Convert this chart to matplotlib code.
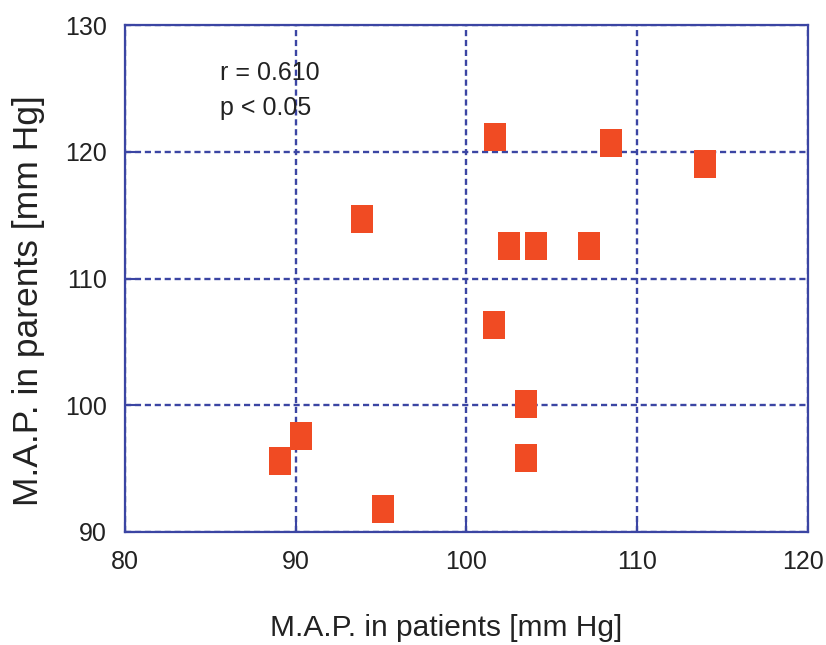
import matplotlib
matplotlib.use('Agg')
import matplotlib.pyplot as plt
import matplotlib.transforms as mtransforms

# mean arterial pressure, patients vs. their parents
map_patients = [101.7, 108.5, 114.0, 93.9, 102.5, 104.1, 107.2, 101.6, 103.5, 90.3, 89.1, 103.5, 95.1]
map_parents = [121.2, 120.7, 119.0, 114.7, 112.6, 112.6, 112.6, 106.3, 100.1, 97.6, 95.6, 95.8, 91.8]
xticks = [80, 90, 100, 110, 120]
yticks = [90, 100, 110, 120, 130]

blue = '#3b45a3'
plt.rcParams['font.family'] = ['Liberation Sans', 'DejaVu Sans']

fig = plt.figure(figsize=(8.26, 6.45), dpi=100)
ax = fig.add_axes([0.1513, 0.1752, 0.8265, 0.786])

# slightly tall square marker
box = [(-1, -1.28), (1, -1.28), (1, 1.28), (-1, 1.28), (-1, -1.28)]
ax.plot(map_patients, map_parents, linestyle='none', marker=box, color='#f04b23',
        markersize=19.5, markeredgewidth=0, zorder=3)

ax.set_xlim(80, 120)
ax.set_ylim(90, 130)
ax.set_xticks(xticks)
ax.set_yticks(yticks)
ax.grid(True, color=blue, linestyle=(0, (2.6, 1.6)), linewidth=1.7)
for s in ax.spines.values():
    s.set_color(blue)
    s.set_linewidth(1.6)
ax.tick_params(direction='in', length=7, color=blue, width=1.5,
               labelsize=18, colors='#222222')
ax.tick_params(axis='x', pad=13)
ax.tick_params(axis='y', pad=13)

# keep the last x tick label inside the figure
last = ax.get_xticklabels()[-1]
last.set_transform(last.get_transform() +
                   mtransforms.ScaledTranslation(-5 / 100, 0, fig.dpi_scale_trans))

ax.set_xlabel('M.A.P. in patients [mm Hg]', fontsize=21.5, color='#222222')
ax.xaxis.set_label_coords(0.47, -0.162)
ax.set_ylabel('M.A.P. in parents [mm Hg]', fontsize=25.5, color='#222222')
ax.yaxis.set_label_coords(-0.117, 0.457)

ax.text(0.139, 0.871, 'r = 0.610\np < 0.05', transform=ax.transAxes,
        fontsize=18, color='#222222', va='center', linespacing=1.62)

plt.savefig('out.png', dpi=100)
